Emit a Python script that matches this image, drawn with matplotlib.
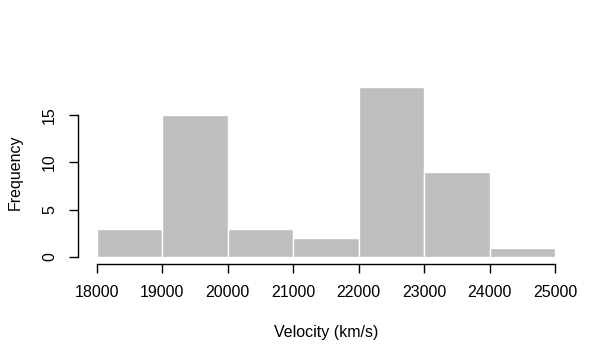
import matplotlib
matplotlib.use("Agg")
import matplotlib.pyplot as plt

plt.rcParams['font.family'] = ['Liberation Sans', 'DejaVu Sans']

# histogram of galaxy velocities, bins of 1000 km/s
bin_edges = [18000, 19000, 20000, 21000, 22000, 23000, 24000, 25000]
counts = [3, 15, 3, 2, 18, 9, 1]
x_ticks = [18000, 19000, 20000, 21000, 22000, 23000, 24000, 25000]
y_ticks = [0, 5, 10, 15]

fig = plt.figure(figsize=(6.14, 3.62), dpi=100)
ax = fig.add_axes([97 / 614, 1 - 257 / 362, 458 / 614, 170.4 / 362])

ax.bar(bin_edges[:-1], counts, width=1000, align='edge',
       color='#bebebe', edgecolor='white', linewidth=1.0)

ax.set_xlim(18000, 25000)
ax.set_ylim(0, 18)
ax.set_xticks(x_ticks)
ax.set_yticks(y_ticks)
ax.set_xticklabels([str(v) for v in x_ticks])
ax.set_yticklabels([str(v) for v in y_ticks])

for s in ['top', 'right']:
    ax.spines[s].set_visible(False)
ax.spines['left'].set_position(('outward', 13.7))
ax.spines['bottom'].set_position(('outward', 5))
ax.spines['left'].set_bounds(0, 15)
ax.spines['bottom'].set_bounds(18000, 25000)
ax.spines['left'].set_linewidth(1.0)
ax.spines['bottom'].set_linewidth(1.0)
ax.tick_params(axis='both', length=6.5, width=1.0, pad=8.5, colors='black',
               labelsize=11.5)
ax.tick_params(axis='y', labelrotation=90)
for lab in ax.get_yticklabels():
    lab.set_va('center')

ax.set_xlabel('Velocity (km/s)', fontsize=11.5, labelpad=18)
ax.set_ylabel('Frequency', fontsize=11.5, labelpad=14)

fig.savefig("out.png", dpi=100, facecolor='white')
